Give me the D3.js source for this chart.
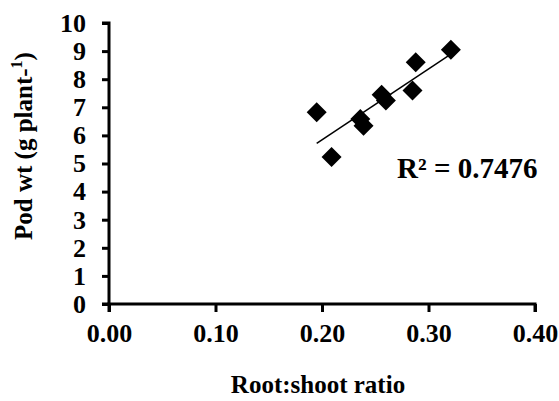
<!DOCTYPE html>
<html>
<head>
<meta charset="utf-8">
<script src="https://cdn.jsdelivr.net/npm/d3@7"></script>
<style>
  body { margin: 0; background: #fff; }
  text { font-family: "Liberation Serif", "Times New Roman", serif; font-weight: bold; }
</style>
</head>
<body>
<svg id="chart" width="559" height="401"></svg>
<script>
const rootShoot = [0.195, 0.209, 0.236, 0.239, 0.256, 0.260, 0.285, 0.288, 0.321];
const podWt = [6.82, 5.23, 6.58, 6.34, 7.45, 7.24, 7.60, 8.60, 9.05];
const xTicks = [0, 0.1, 0.2, 0.3, 0.4];
const yTicks = [0, 1, 2, 3, 4, 5, 6, 7, 8, 9, 10];
const r2Label = "R² = 0.7476";

(function() {
    const svg = d3.select("#chart"),
        width = +svg.attr("width"),
        height = +svg.attr("height");

    const margin = {top: 23, right: 24, bottom: 97, left: 109},
        innerWidth = width - margin.left - margin.right,
        innerHeight = height - margin.top - margin.bottom;

    const g = svg.append("g")
        .attr("transform", `translate(${margin.left},${margin.top})`);

    const x = d3.scaleLinear().domain([0, 0.4]).range([0, innerWidth]);
    const y = d3.scaleLinear().domain([0, 10]).range([innerHeight, 0]);

    const xAxis = g.append("g")
        .attr("transform", `translate(0,${innerHeight})`)
        .call(d3.axisBottom(x).tickValues(xTicks).tickFormat(d3.format(".2f")).tickSize(8).tickPadding(12));

    const yAxis = g.append("g")
        .call(d3.axisLeft(y).tickValues(yTicks).tickFormat(d3.format("d")).tickSize(7).tickPadding(16));

    [xAxis, yAxis].forEach(a => {
        a.select(".domain").attr("stroke-width", 3).attr("stroke", "#000");
        a.selectAll(".tick line").attr("stroke-width", 3).attr("stroke", "#000");
        a.selectAll(".tick text").style("font-size", "26px").attr("fill", "#000");
    });
    xAxis.select(".domain").attr("d", `M0,8V0H${innerWidth}V8`);
    yAxis.select(".domain").attr("d", `M-7,0H0V${innerHeight}H-7`);

    // linear trend line from the points
    const n = rootShoot.length,
        mx = d3.mean(rootShoot),
        my = d3.mean(podWt);
    let sxy = 0, sxx = 0;
    for (let i = 0; i < n; i++) {
        sxy += (rootShoot[i] - mx) * (podWt[i] - my);
        sxx += (rootShoot[i] - mx) ** 2;
    }
    const slope = sxy / sxx, icpt = my - slope * mx;
    const [x0, x1] = d3.extent(rootShoot);

    g.append("line")
        .attr("x1", x(x0)).attr("y1", y(icpt + slope * x0))
        .attr("x2", x(x1)).attr("y2", y(icpt + slope * x1))
        .attr("stroke", "#000")
        .attr("stroke-width", 1.5);

    const diamond = d3.symbol().type(d3.symbolSquare).size(200);
    g.selectAll(".pt")
        .data(rootShoot.map((v, i) => [v, podWt[i]]))
        .join("path")
        .attr("class", "pt")
        .attr("d", diamond)
        .attr("transform", d => `translate(${x(d[0])},${y(d[1])}) rotate(45)`)
        .attr("fill", "#000");

    g.append("text")
        .attr("x", 397 - margin.left)
        .attr("y", 178 - margin.top)
        .style("font-size", "29px")
        .text(r2Label);

    svg.append("text")
        .attr("x", margin.left + innerWidth / 2 - 4)
        .attr("y", 393)
        .attr("text-anchor", "middle")
        .style("font-size", "25px")
        .text("Root:shoot ratio");

    const yl = svg.append("text")
        .attr("transform", `translate(32,146) rotate(-90)`)
        .attr("text-anchor", "middle")
        .style("font-size", "25px");
    yl.append("tspan").text("Pod wt (g plant-");
    yl.append("tspan").attr("dy", -10).style("font-size", "16px").text("1");
    yl.append("tspan").attr("dy", 10).text(")");
})();
</script>
</body>
</html>
